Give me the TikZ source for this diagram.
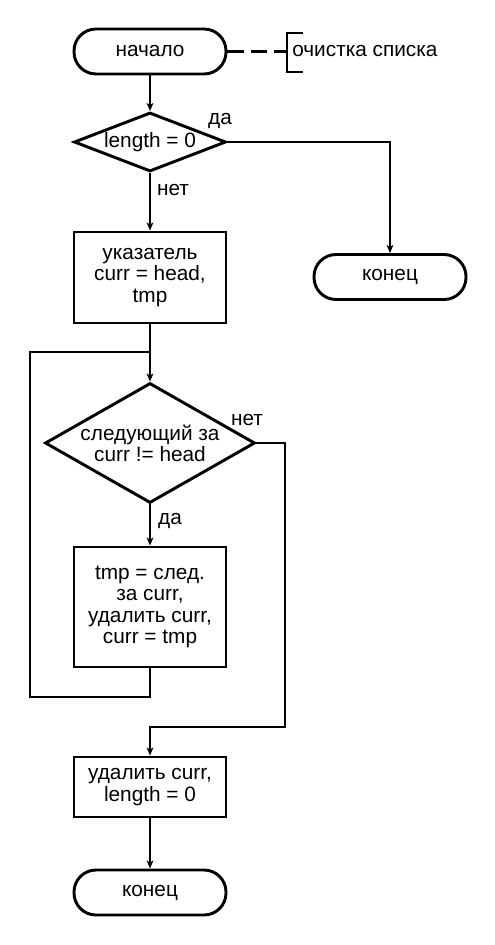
\documentclass[tikz,border=0pt]{standalone}
\usepackage{fontspec}
\setmainfont{Liberation Sans}
\usetikzlibrary{shapes.geometric,arrows.meta,calc}
\begin{document}
\begin{tikzpicture}[x=0.75pt,y=-0.75pt,
  every node/.style={font=\fontsize{15.6pt}{15.9pt}\selectfont},
  term/.style={draw,line width=2.2pt,rounded corners=16.5pt,minimum width=114pt,minimum height=33.75pt,inner sep=0pt},
  proc/.style={draw,line width=2.2pt,minimum width=114pt,inner sep=0pt,align=center},
  dec/.style={draw,shape=diamond,line width=2.2pt,inner sep=0pt},
  conn/.style={line width=1.5pt},
  arr/.style={conn,-{Stealth[length=6pt,width=5pt,inset=1.5pt]}},
  dashline/.style={line width=2.2pt,dash pattern=on 12.5pt off 5pt},
  lbl/.style={inner sep=0pt}]
\useasboundingbox (0,0) rectangle (495,945);

\node[term] (start) at (150,51.5) {начало};
\node[dec,minimum width=114pt,minimum height=44.25pt,label={center:{length = 0}}] (d1) at (150,142) {};
\node[proc,minimum height=68.25pt] (b1) at (150,277.5) {указатель\\curr = head,\\tmp};
\node[term] (e2) at (390,277) {конец};
\node[dec,minimum width=157.5pt,minimum height=90pt,label={[align=center]center:{следующий за\\curr != head}}] (d2) at (150,443) {};
\node[proc,minimum height=90pt] (b2) at (150,607) {tmp = след.\\за curr,\\удалить curr,\\curr = tmp};
\node[proc,minimum height=45pt] (b3) at (150,787) {удалить curr,\\length = 0};
\node[term] (e1) at (150,892.5) {конец};

% comment
\coordinate (brk) at (287,51.5);
\coordinate (bt) at (287,33);
\coordinate (bb) at (287,72);
\coordinate (bt2) at (303,33);
\coordinate (bb2) at (303,72);
\draw[dashline] (start.east) -- (brk);
\draw[line width=2.2pt] (bt2) -- (bt) -- (bb) -- (bb2);
\node[anchor=west,inner sep=0pt] (cm) at (292,51) {очистка списка};

% connectors
\coordinate (j) at (150,352);
\coordinate (lb) at (150,697);
\coordinate (la) at (30,697);
\coordinate (lt) at (30,352);
\coordinate (n1) at (285,443);
\coordinate (n2) at (285,727);
\coordinate (n3) at (150,727);

\draw[arr] (start) -- (d1);
\draw[arr] (d1.east) -| (e2.north);
\draw[arr] (d1) -- (b1);
\draw[arr] (b1) -- (d2);
\draw[arr] (d2) -- (b2);
\draw[conn] (b2.south) -- (lb) -- (la) -- (lt) -- (j);
\draw[arr] (d2.east) -- (n1) -- (n2) -- (n3) -- (b3.north);
\draw[arr] (b3) -- (e1);

\node[lbl] (l1) at (220,121) {да};
\node[lbl] (l2) at (173,190) {нет};
\node[lbl] (l3) at (247,420) {нет};
\node[lbl] (l4) at (170,521) {да};
\end{tikzpicture}
\end{document}
